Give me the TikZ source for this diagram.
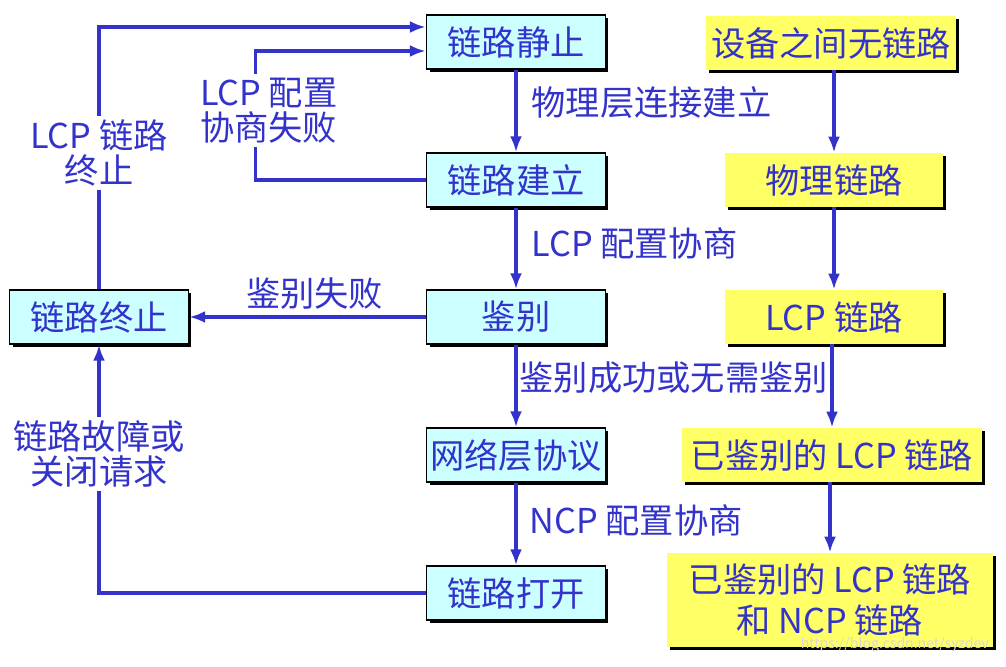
\documentclass[tikz,border=0pt]{standalone}
\usepackage{fontspec}
\setmainfont{Noto Sans CJK SC}
\usetikzlibrary{arrows.meta,shadows}
\definecolor{linkblue}{RGB}{51,51,204}
\definecolor{statecyan}{RGB}{204,255,255}
\definecolor{phaseyellow}{RGB}{255,255,102}
\begin{document}
\begin{tikzpicture}[x=0.02cm, y=-0.02cm,
  every node/.style={text=linkblue, font=\fontsize{19.5}{20}\selectfont},
  boxshadow/.style={drop shadow={shadow xshift=0.06cm, shadow yshift=-0.06cm, fill=black, opacity=1}},
  state/.style={draw=black, line width=0.8pt, fill=statecyan, minimum width=3.58cm, minimum height=1.08cm, inner sep=0pt, boxshadow},
  phase/.style={fill=phaseyellow, minimum height=1.08cm, inner sep=0pt, boxshadow},
  flow/.style={draw=linkblue, line width=1.9pt, -{Latex[length=0.32cm, width=0.24cm]}}]
\useasboundingbox (0,0) rectangle (1006,666);

\node[state] (quiet) at (516,42) {链路静止};
\node[state] (establish) at (516,180) {链路建立};
\node[state] (auth) at (516,317) {鉴别};
\node[state] (network) at (516,455) {网络层协议};
\node[state] (open) at (516,593) {链路打开};
\node[state] (terminate) at (99,317) {链路终止};

\node[phase, minimum width=5.02cm] (nolink) at (831,43) {设备之间无链路};
\node[phase, minimum width=4.38cm] (phys) at (834,180) {物理链路};
\node[phase, minimum width=4.38cm] (lcp) at (834,317) {LCP 链路};
\node[phase, minimum width=6.0cm] (authlcp) at (832,455) {已鉴别的 LCP 链路};
\node[phase, minimum width=6.54cm, minimum height=1.88cm, align=center, font=\fontsize{19.5}{23}\selectfont] (ncp) at (830,600) {已鉴别的 LCP 链路\\和 NCP 链路};

\draw[flow] (quiet) -- (establish) node[anchor=west] at (524,103) {物理层连接建立};
\draw[flow] (establish) -- (auth) node[anchor=west] at (524,243) {LCP 配置协商};
\draw[flow] (auth) -- (network) node[anchor=west] at (512,378) {鉴别成功或无需鉴别};
\draw[flow] (network) -- (open) node[anchor=west] at (522,520) {NCP 配置协商};

\draw[flow] (auth) -- (terminate) node[pos=0.47, above] {鉴别失败};
\draw[flow] (terminate.north) |- ([yshift=0.3cm]quiet.west) node[pos=0.26, fill=white, align=center, inner sep=2pt] {LCP 链路\\终止};
\draw[flow] (establish.west) -- ++(-170,0) |- ([yshift=-0.18cm]quiet.west) node[pos=0.27, xshift=0.26cm, fill=white, align=left, inner sep=2pt] {LCP 配置\\协商失败};
\draw[flow] (open.west) -| (terminate.south) node[pos=0.78, fill=white, align=center, inner sep=2pt] {链路故障或\\关闭请求};

\foreach \a/\b in {nolink/phys, phys/lcp, lcp/authlcp, authlcp/ncp}
{
	\draw[flow] (\b.north |- \a.south) -- (\b.north);
}

\node[anchor=east, text=black!15, font=\fontsize{8}{9}\selectfont] (mark) at (995,645) {https://blog.csdn.net/syzdev};
\end{tikzpicture}
\end{document}
